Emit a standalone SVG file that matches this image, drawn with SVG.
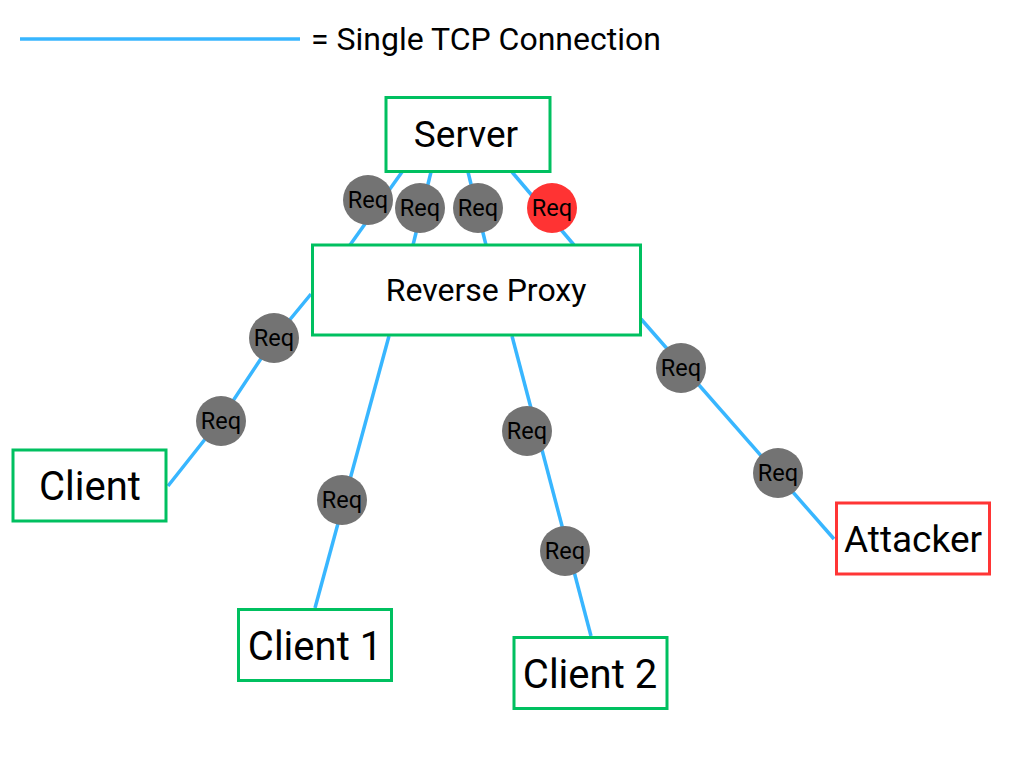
<svg xmlns="http://www.w3.org/2000/svg" width="1024" height="768" viewBox="0 0 1024 768">
<style>
.box{fill:#fff;stroke:#00c060;stroke-width:3}
.bad{fill:#fff;stroke:#ff3535;stroke-width:3}
.conn{fill:none;stroke:#38b6ff;stroke-width:3.5;stroke-linecap:butt}
.req{fill:#737373}
.reqr{fill:#ff3333}
.lbl{font-family:Roboto,"Liberation Sans",sans-serif;fill:#000;text-anchor:middle}
.rt{font-family:Roboto,"Liberation Sans",sans-serif;font-size:23.5px;fill:#000;text-anchor:middle}
</style>
<rect width="1024" height="768" fill="#fff"/>
<g id="legend">
<line class="conn" x1="20" y1="39" x2="300" y2="39"/>
<text x="311" y="50" font-family="Roboto, 'Liberation Sans', sans-serif" font-size="32" fill="#000">= Single TCP Connection</text>
</g>
<g id="connectors">
<line class="conn" x1="402" y1="172" x2="350" y2="245"/>
<line class="conn" x1="431" y1="172" x2="413" y2="245"/>
<line class="conn" x1="468" y1="172" x2="486" y2="245"/>
<line class="conn" x1="512" y1="172" x2="574" y2="245"/>
<polyline class="conn" points="168,486 221,419 274,339 311,294"/>
<line class="conn" x1="315" y1="608" x2="389" y2="336"/>
<line class="conn" x1="591" y1="636" x2="512" y2="336"/>
<line class="conn" x1="834" y1="539" x2="641" y2="319"/>
</g>
<g id="server"><rect class="box" x="386" y="97.5" width="164" height="74"/><text class="lbl" x="466" y="147" font-size="37">Server</text></g>
<g id="proxy"><rect class="box" x="312.5" y="245" width="328" height="90"/><text class="lbl" x="486" y="301" font-size="32">Reverse Proxy</text></g>
<g id="client"><rect class="box" x="13" y="450" width="153" height="71"/><text class="lbl" x="90" y="500" font-size="40">Client</text></g>
<g id="client1"><rect class="box" x="238.5" y="609.5" width="153" height="71"/><text class="lbl" x="315" y="660" font-size="40">Client 1</text></g>
<g id="client2"><rect class="box" x="514" y="637.5" width="153" height="71"/><text class="lbl" x="590" y="688" font-size="40">Client 2</text></g>
<g id="attacker"><rect class="bad" x="836.5" y="503" width="153" height="71"/><text class="lbl" x="913" y="552" font-size="37">Attacker</text></g>
<g id="requests">
<circle class="req" cx="368" cy="200" r="25"/><text class="rt" x="368" y="208">Req</text>
<circle class="req" cx="420" cy="208" r="25"/><text class="rt" x="420" y="216">Req</text>
<circle class="req" cx="478" cy="208" r="25"/><text class="rt" x="478" y="216">Req</text>
<circle class="reqr" cx="552" cy="208" r="25"/><text class="rt" x="552" y="216">Req</text>
<circle class="req" cx="274" cy="338" r="25"/><text class="rt" x="274" y="346">Req</text>
<circle class="req" cx="221" cy="421" r="25"/><text class="rt" x="221" y="429">Req</text>
<circle class="req" cx="342" cy="500" r="25"/><text class="rt" x="342" y="508">Req</text>
<circle class="req" cx="527" cy="431" r="25"/><text class="rt" x="527" y="439">Req</text>
<circle class="req" cx="565" cy="551" r="25"/><text class="rt" x="565" y="559">Req</text>
<circle class="req" cx="681" cy="368" r="25"/><text class="rt" x="681" y="376">Req</text>
<circle class="req" cx="778" cy="473" r="25"/><text class="rt" x="778" y="481">Req</text>
</g>
</svg>
